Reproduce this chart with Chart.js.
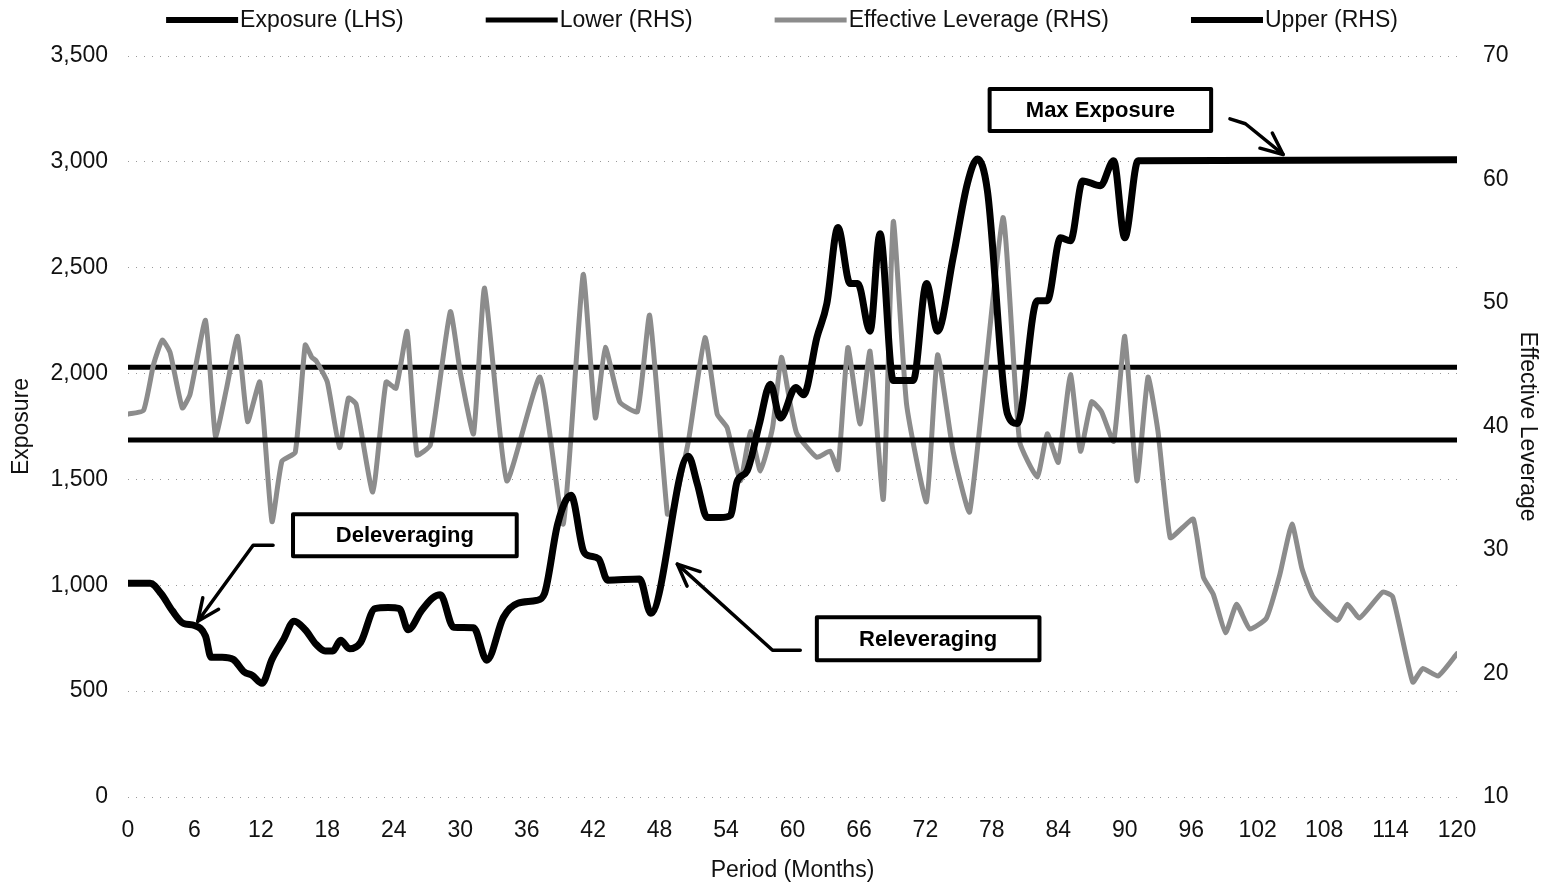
<!DOCTYPE html>
<html>
<head>
<meta charset="utf-8">
<title>Exposure and Effective Leverage</title>
<script src="https://cdn.jsdelivr.net/npm/chart.js@4.4.0/dist/chart.umd.min.js"></script>
<style>
  html, body { margin: 0; padding: 0; background: #fff; }
  #wrap { width: 1551px; height: 886px; }
</style>
</head>
<body>
<div id="wrap"><canvas id="chart"></canvas></div>
<script>
// exposure path (LHS), months may be fractional where the curve turns between months
const exposureMonths = [0, 2, 3, 4, 5, 6, 7, 7.5, 8.5, 9.5, 10.5, 11.2, 12.1, 13, 14, 15, 16, 17, 17.8, 18.5,
  19.2, 20, 21, 22.3, 23.5, 24.5, 25.3, 26.5, 27.5, 28.2, 29.4, 31.2, 32.4, 33.9, 35.2, 36.9, 37.6, 38.8, 40,
  41.1, 41.6, 42.5, 43.3, 46.2, 47.2, 50.6, 51.4, 52.3, 53.5, 54.4, 55, 55.9, 57, 58, 58.9, 60.3, 61, 62.2,
  63.1, 64.1, 65.2, 65.9, 67, 67.9, 69.1, 70.9, 72.1, 73.1, 74.5, 75.8, 76.7, 77.6, 79.4, 80.3, 82.1, 83,
  84.2, 85.1, 86.2, 87.8, 89, 90, 91.2, 120];
const exposureValues = [1010, 1010, 960, 880, 820, 810, 760, 660, 660, 650, 590, 575, 537, 650, 740, 830, 790, 720, 690, 690,
  740, 700, 730, 890, 895, 890, 790, 880, 940, 955, 802, 800, 646, 849, 915, 929, 960, 1290, 1425,
  1165, 1140, 1125, 1024, 1030, 868, 1610, 1480, 1320, 1320, 1330, 1490, 1540, 1760, 1950, 1790, 1934, 1900, 2170,
  2330, 2690, 2425, 2425, 2200, 2660, 1967, 1967, 2425, 2200, 2547, 2900, 3014, 2863, 1811, 1764, 2344, 2344,
  2641, 2627, 2910, 2887, 3005, 2641, 3005, 3010];

// effective leverage (RHS)
const leverageMonths = [0, 1.4, 2.3, 3.1, 3.8, 4.9, 5.6, 7, 7.9, 8.9, 9.9, 10.8, 11.9, 13, 13.9, 15.1, 16, 16.6,
  17, 18, 19.1, 19.9, 20.6, 22.1, 23.3, 24.2, 25.2, 26.1, 27.3, 29.1, 30, 31.2, 32.2, 34.2, 37.2, 39.3, 41.1,
  42.2, 43.1, 44.4, 46, 47.1, 48.7, 49.2, 50.6, 52.1, 53.2, 54.1, 55.3, 56.2, 57.1, 58.2, 59, 59.8, 60.4, 62.2,
  63.4, 64.1, 65, 66.1, 67, 68.2, 69.1, 70.3, 72.1, 73.1, 74.5, 76, 79, 80.5, 82.1, 83, 84, 85.1, 86, 87, 87.9,
  89, 90, 91.1, 92.1, 93, 94.1, 95.2, 96.2, 97.1, 98, 99.1, 100.1, 101.3, 102.8, 104, 105.1, 106, 107, 109.2,
  110.1, 111.2, 113.3, 114.2, 116, 116.9, 118.3, 120];
const leverageValues = [41, 41.3, 45, 47, 46, 41.5, 42.6, 48.6, 39.2, 43.1, 47.3, 40.4, 43.6, 32.3, 37.2, 37.9, 46.6, 45.6,
  45.3, 43.6, 38.3, 42.3, 41.8, 34.7, 43.6, 43.1, 47.7, 37.7, 38.5, 49.3, 44.4, 39.4, 51.2, 35.6, 44, 32.1, 52.3,
  40.7, 46.4, 42, 41.2, 49, 32.9, 33.2, 38.8, 47.2, 41, 39.9, 35.6, 39.6, 36.4, 39.9, 45.6, 41.8, 39.4, 37.5,
  38, 36.5, 46.4, 40.2, 46.1, 34.1, 56.6, 41.8, 33.9, 45.8, 38, 33.1, 56.9, 38.8, 35.9, 39.4, 37.1, 44.2, 38, 42, 41.2,
  38.8, 47.3, 35.6, 44, 39.6, 31, 31.8, 32.5, 27.8, 26.4, 23.3, 25.6, 23.6, 24.5, 28, 32.1, 28.5, 26.2, 24.3,
  25.6, 24.5, 26.6, 26.2, 19.3, 20.4, 19.8, 21.6];

// band limits (RHS)
const bandMonths = [0, 120];
const lowerValues = [38.9, 38.9];
const upperValues = [44.8, 44.8];

// tick labels
const monthTicks = [0, 6, 12, 18, 24, 30, 36, 42, 48, 54, 60, 66, 72, 78, 84, 90, 96, 102, 108, 114, 120];
const exposureTicks = [0, 500, 1000, 1500, 2000, 2500, 3000, 3500];
const leverageTicks = [10, 20, 30, 40, 50, 60, 70];

const toPoints = (xs, ys) => xs.map((x, i) => ({ x: x, y: ys[i] }));

const FONT = 'Liberation Sans, Arial, sans-serif';
const INK = '#111';
const GREY = '#8c8c8c';

// legend drawn by hand so the spacing can match the original
const customLegend = {
  id: 'customLegend',
  afterDraw(chart) {
    const ctx = chart.ctx;
    const sets = chart.data.datasets;
    ctx.save();
    ctx.font = '23px ' + FONT;
    ctx.textBaseline = 'middle';
    const sample = 72, gap = 2, spacing = 82;
    const widths = sets.map(d => sample + gap + ctx.measureText(d.label).width);
    const total = widths.reduce((a, b) => a + b, 0) + spacing * (sets.length - 1);
    let x = 782 - total / 2;
    const y = 20;
    sets.forEach((d, i) => {
      ctx.strokeStyle = d.borderColor;
      ctx.lineWidth = d.legendWidth;
      ctx.beginPath();
      ctx.moveTo(x, y);
      ctx.lineTo(x + sample, y);
      ctx.stroke();
      ctx.fillStyle = INK;
      ctx.fillText(d.label, x + sample + gap, y + 1);
      x += widths[i] + spacing;
    });
    ctx.restore();
  }
};

// callout boxes and arrows, placed in data units
const callouts = {
  id: 'callouts',
  afterDraw(chart) {
    const ctx = chart.ctx;
    const xs = chart.scales.x, ys = chart.scales.y;
    const px = v => xs.getPixelForValue(v);
    const py = v => ys.getPixelForValue(v);

    const box = (x0, x1, y0, y1, text) => {
      const l = px(x0), r = px(x1), t = py(y1), b = py(y0);
      ctx.fillStyle = '#fff';
      ctx.fillRect(l, t, r - l, b - t);
      ctx.strokeStyle = '#000';
      ctx.lineWidth = 4;
      ctx.strokeRect(l, t, r - l, b - t);
      ctx.fillStyle = '#000';
      ctx.font = 'bold 22px ' + FONT;
      ctx.textAlign = 'center';
      ctx.textBaseline = 'middle';
      ctx.fillText(text, (l + r) / 2, (t + b) / 2 + 1);
    };

    const arrow = pts => {
      const p = pts.map(q => [px(q[0]), py(q[1])]);
      ctx.strokeStyle = '#000';
      ctx.lineWidth = 3.5;
      ctx.lineCap = 'round';
      ctx.lineJoin = 'round';
      ctx.beginPath();
      ctx.moveTo(p[0][0], p[0][1]);
      for (let i = 1; i < p.length; i++) ctx.lineTo(p[i][0], p[i][1]);
      ctx.stroke();
      const [tx, ty] = p[p.length - 1];
      const [sx, sy] = p[p.length - 2];
      const ang = Math.atan2(ty - sy, tx - sx);
      const len = 24, spread = 0.42;
      ctx.beginPath();
      ctx.moveTo(tx - len * Math.cos(ang - spread), ty - len * Math.sin(ang - spread));
      ctx.lineTo(tx, ty);
      ctx.lineTo(tx - len * Math.cos(ang + spread), ty - len * Math.sin(ang + spread));
      ctx.stroke();
    };

    ctx.save();
    arrow([[99.5, 3203], [100.9, 3180], [104.3, 3035]]);
    arrow([[13.1, 1189], [11.3, 1189], [6.3, 830]]);
    arrow([[60.7, 693], [58.2, 693], [49.6, 1100]]);
    box(77.8, 97.8, 3146, 3344, 'Max Exposure');
    box(14.9, 35.1, 1137, 1335, 'Deleveraging');
    box(62.2, 82.3, 646, 849, 'Releveraging');
    ctx.restore();
  }
};

const tickFont = { family: FONT, size: 23 };
const titleFont = { family: FONT, size: 23 };

new Chart(document.getElementById('chart'), {
  type: 'line',
  data: {
    datasets: [
      {
        label: 'Exposure (LHS)',
        data: toPoints(exposureMonths, exposureValues),
        yAxisID: 'y',
        borderColor: '#000',
        borderWidth: 7,
        legendWidth: 6,
        cubicInterpolationMode: 'monotone',
        borderJoinStyle: 'round',
        borderCapStyle: 'round'
      },
      {
        label: 'Lower (RHS)',
        data: toPoints(bandMonths, lowerValues),
        yAxisID: 'y2',
        borderColor: '#000',
        borderWidth: 5,
        legendWidth: 5
      },
      {
        label: 'Effective Leverage (RHS)',
        data: toPoints(leverageMonths, leverageValues),
        yAxisID: 'y2',
        borderColor: GREY,
        borderWidth: 5,
        legendWidth: 5,
        tension: 0.15,
        borderJoinStyle: 'round',
        borderCapStyle: 'round'
      },
      {
        label: 'Upper (RHS)',
        data: toPoints(bandMonths, upperValues),
        yAxisID: 'y2',
        borderColor: '#000',
        borderWidth: 5,
        legendWidth: 6
      }
    ]
  },
  options: {
    responsive: true,
    maintainAspectRatio: false,
    animation: false,
    layout: { padding: { top: 56, left: 0, right: 0, bottom: 0 } },
    elements: { point: { radius: 0 } },
    plugins: {
      legend: { display: false },
      tooltip: { enabled: false }
    },
    scales: {
      x: {
        type: 'linear',
        min: 0,
        max: 120,
        afterBuildTicks: s => { s.ticks = monthTicks.map(v => ({ value: v })); },
        afterFit: s => { s.height = 89; },
        grid: { display: false },
        border: { display: false },
        ticks: { font: tickFont, color: INK, padding: 12, maxRotation: 0, autoSkip: false },
        title: { display: true, text: 'Period (Months)', font: titleFont, color: INK, padding: { top: 0, bottom: 2 } }
      },
      y: {
        position: 'left',
        min: 0,
        max: 3500,
        afterBuildTicks: s => { s.ticks = exposureTicks.map(v => ({ value: v })); },
        afterFit: s => { s.width = 128; },
        grid: { color: 'rgba(0,0,0,0.4)', lineWidth: 1, drawTicks: false, borderDash: [1, 7] },
        border: { display: false, dash: [1, 7] },
        ticks: { font: tickFont, color: INK, padding: 20 },
        title: { display: true, text: 'Exposure', font: titleFont, color: INK, padding: { top: 8, bottom: 0 } }
      },
      y2: {
        position: 'right',
        min: 10,
        max: 70,
        afterBuildTicks: s => { s.ticks = leverageTicks.map(v => ({ value: v })); },
        afterFit: s => { s.width = 94; },
        grid: { display: false },
        border: { display: false },
        ticks: { font: tickFont, color: INK, padding: 18 },
        title: { display: true, text: 'Effective Leverage', font: titleFont, color: INK, padding: { top: 10, bottom: 0 } }
      }
    }
  },
  plugins: [customLegend, callouts]
});
</script>
</body>
</html>
